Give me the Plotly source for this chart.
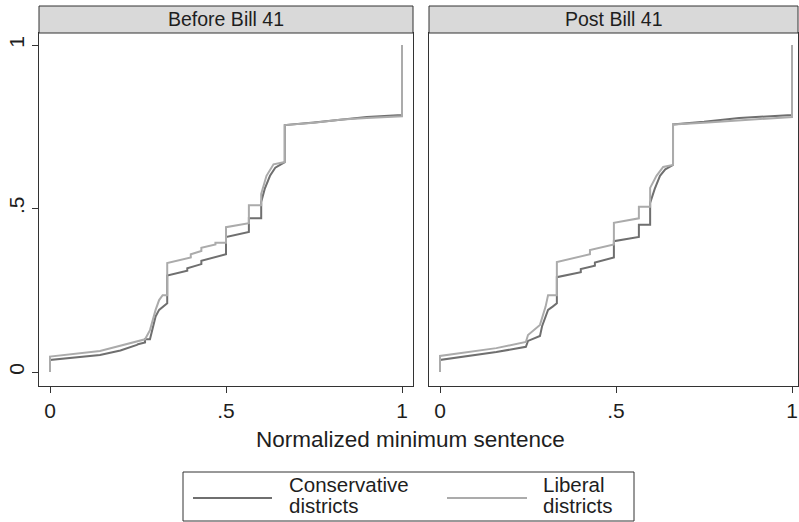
import plotly.graph_objects as go

# ---------------- data ----------------
panels = ["Before Bill 41", "Post Bill 41"]
series_names = ["Conservative districts", "Liberal districts"]
tick_vals = [0, 0.5, 1]
tick_text = ["0", ".5", "1"]

before_cons_x = [0, 0, 0.142, 0.2, 0.247, 0.25, 0.27, 0.27, 0.284, 0.29, 0.3, 0.31, 0.32, 0.333, 0.333,
                 0.39, 0.39, 0.43, 0.43, 0.5, 0.5, 0.565, 0.565, 0.6, 0.6, 0.61, 0.625, 0.64, 0.667, 0.667,
                 0.75, 0.83, 0.9, 1.0, 1.0]
before_cons_y = [0, 0.037, 0.052, 0.066, 0.083, 0.085, 0.09, 0.1, 0.1, 0.13, 0.17, 0.19, 0.2, 0.21, 0.295,
                 0.31, 0.317, 0.33, 0.34, 0.36, 0.413, 0.428, 0.47, 0.47, 0.52, 0.56, 0.6, 0.625, 0.642, 0.755,
                 0.763, 0.773, 0.78, 0.786, 1.0]

before_lib_x = [0, 0, 0.142, 0.2, 0.247, 0.27, 0.284, 0.3, 0.31, 0.32, 0.333, 0.333, 0.4, 0.4, 0.43, 0.43,
                0.47, 0.47, 0.5, 0.5, 0.565, 0.565, 0.6, 0.6, 0.615, 0.635, 0.667, 0.667, 0.75, 0.83, 0.9,
                1.0, 1.0]
before_lib_y = [0, 0.047, 0.064, 0.08, 0.095, 0.1, 0.128, 0.19, 0.22, 0.235, 0.235, 0.333, 0.35, 0.36, 0.37,
                0.38, 0.39, 0.395, 0.395, 0.443, 0.455, 0.51, 0.51, 0.545, 0.6, 0.635, 0.642, 0.755, 0.762,
                0.772, 0.777, 0.782, 1.0]

post_cons_x = [0, 0, 0.16, 0.244, 0.25, 0.284, 0.29, 0.307, 0.32, 0.332, 0.332, 0.4, 0.4, 0.44, 0.44, 0.494,
               0.494, 0.565, 0.565, 0.597, 0.597, 0.61, 0.625, 0.64, 0.662, 0.662, 0.75, 0.85, 1.0, 1.0]
post_cons_y = [0, 0.037, 0.061, 0.077, 0.095, 0.11, 0.14, 0.19, 0.2, 0.21, 0.29, 0.305, 0.315, 0.325, 0.335,
               0.35, 0.4, 0.413, 0.45, 0.45, 0.517, 0.56, 0.6, 0.62, 0.633, 0.757, 0.765, 0.777, 0.786, 1.0]

post_lib_x = [0, 0, 0.16, 0.244, 0.25, 0.284, 0.3, 0.307, 0.332, 0.332, 0.426, 0.426, 0.494, 0.494, 0.565,
              0.565, 0.597, 0.597, 0.615, 0.634, 0.662, 0.662, 0.75, 0.85, 1.0, 1.0]
post_lib_y = [0, 0.049, 0.073, 0.092, 0.113, 0.144, 0.2, 0.235, 0.235, 0.336, 0.36, 0.373, 0.39, 0.456, 0.47,
              0.505, 0.505, 0.563, 0.6, 0.627, 0.633, 0.757, 0.762, 0.77, 0.78, 1.0]

# ---------------- style ----------------
W, H = 799, 522
FONT = "Liberation Sans, Arial, Helvetica, sans-serif"
C_CONS = "#6f6f6f"
C_LIB = "#ababab"
AX = "#333333"
TXT = "#1e1e1e"


def px(x):
    return x / W


def py(y):
    return 1 - y / H


fig = go.Figure()

data_sets = [
    ("x", "y", before_cons_x, before_cons_y, before_lib_x, before_lib_y),
    ("x2", "y2", post_cons_x, post_cons_y, post_lib_x, post_lib_y),
]
for xa, ya, cx, cy, lx, ly in data_sets:
    fig.add_trace(go.Scatter(x=cx, y=cy, mode="lines", xaxis=xa, yaxis=ya,
                             line=dict(color=C_CONS, width=2), name=series_names[0], showlegend=False))
    fig.add_trace(go.Scatter(x=lx, y=ly, mode="lines", xaxis=xa, yaxis=ya,
                             line=dict(color=C_LIB, width=2), name=series_names[1], showlegend=False))

# plot area geometry (pixels)
left_dom = [px(39), px(413)]
right_dom = [px(429), px(798)]
y_dom = [py(386), py(33)]
xr_left = [-11 / 352, 363 / 352]
xr_right = [-11 / 352, 358 / 352]
yr = [-14 / 327, 339 / 327]

xcommon = dict(tickvals=tick_vals, ticktext=tick_text, ticks="outside", ticklen=6, tickwidth=1,
               tickcolor=AX, showline=True, mirror=True, linecolor=AX, linewidth=1, showgrid=False,
               zeroline=False, tickfont=dict(family=FONT, size=21, color=TXT), fixedrange=True)
fig.update_layout(
    xaxis=dict(domain=left_dom, range=xr_left, anchor="y", **xcommon),
    xaxis2=dict(domain=right_dom, range=xr_right, anchor="y2", **xcommon),
    yaxis=dict(domain=y_dom, range=yr, anchor="x", tickvals=tick_vals, ticktext=tick_text,
               ticks="outside", ticklen=6, tickcolor=AX, tickangle=-90, showline=True, mirror=True,
               linecolor=AX, linewidth=1, showgrid=False, zeroline=False, fixedrange=True,
               tickfont=dict(family=FONT, size=21, color=TXT)),
    yaxis2=dict(domain=y_dom, range=yr, anchor="x2", showticklabels=False, ticks="", fixedrange=True,
                showline=True, mirror=True, linecolor=AX, linewidth=1, showgrid=False, zeroline=False),
)

shapes = []
annotations = []
# strip headers
for (x0, x1), title in zip([(39, 413), (429, 798)], panels):
    shapes.append(dict(type="rect", xref="paper", yref="paper", x0=px(x0), x1=px(x1), y0=py(33), y1=py(6),
                       fillcolor="#d9d9d9", line=dict(color=AX, width=1), layer="above"))
    annotations.append(dict(text=title, xref="paper", yref="paper", x=px((x0 + x1) / 2), y=py(19.5),
                            xanchor="center", yanchor="middle", showarrow=False,
                            font=dict(family=FONT, size=19.5, color=TXT)))

# x axis title
annotations.append(dict(text="Normalized minimum sentence", xref="paper", yref="paper", x=px(410), y=py(439),
                        xanchor="center", yanchor="middle", showarrow=False,
                        font=dict(family=FONT, size=22.5, color=TXT)))

# legend box
shapes.append(dict(type="rect", xref="paper", yref="paper", x0=px(183), x1=px(634), y0=py(521), y1=py(472),
                   fillcolor="white", line=dict(color=AX, width=1)))
for (lx0, lx1, tx), col, name in zip([(193, 272, 287), (447, 527, 541)], [C_CONS, C_LIB], series_names):
    shapes.append(dict(type="line", xref="paper", yref="paper", x0=px(lx0), x1=px(lx1), y0=py(498), y1=py(498),
                       line=dict(color=col, width=2)))
    first, second = name.split(" ")
    for txt, yc in [(first, 484.5), (second, 505.5)]:
        annotations.append(dict(text=txt, xref="paper", yref="paper", x=px(tx), y=py(yc),
                                xanchor="left", yanchor="middle", align="left", showarrow=False,
                                font=dict(family=FONT, size=20.5, color=TXT)))

fig.update_layout(width=W, height=H, margin=dict(l=0, r=0, t=0, b=0), paper_bgcolor="white",
                  plot_bgcolor="white", shapes=shapes, annotations=annotations, showlegend=False)

fig.write_html("out.html", config={"displayModeBar": False},
               post_script="document.body.style.margin='0';document.body.style.padding='0';")
